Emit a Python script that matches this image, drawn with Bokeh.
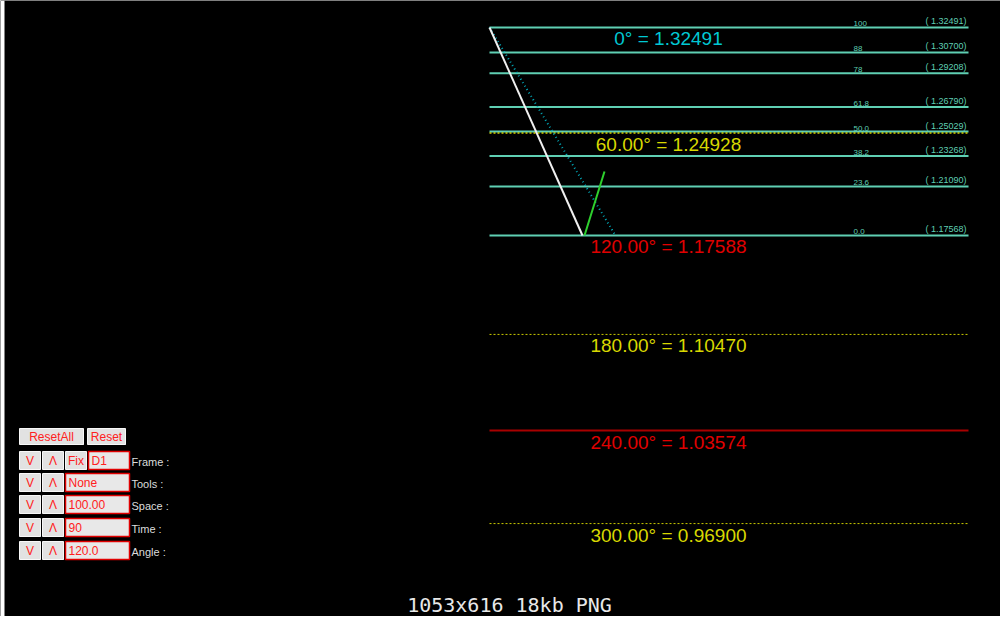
from bokeh.plotting import figure
from bokeh.models import Range1d
from bokeh.core.properties import value
from bokeh.embed import file_html
from bokeh.resources import INLINE

# ---------------- data ----------------
fib_levels = ["100", "88", "78", "61.8", "50.0", "38.2", "23.6", "0.0"]
fib_prices = [1.32491, 1.30700, 1.29208, 1.26790, 1.25029, 1.23268, 1.21090, 1.17568]

angle_labels = ["0° = 1.32491", "60.00° = 1.24928", "120.00° = 1.17588",
                "180.00° = 1.10470", "240.00° = 1.03574", "300.00° = 0.96900"]
angle_prices = [1.32491, 1.24928, 1.17588, 1.10470, 1.03574, 0.96900]
angle_colors = ["#00c8d4", "#d8d800", "#e00000", "#d8d800", "#e00000", "#d8d800"]

# time axis (bar units)
t_start, t_end = 489, 968          # extent of level lines
swing_t = [489, 582]               # high -> low swing
swing_p = [1.32491, 1.17568]
dotted_t = [489, 615]
dotted_p = [1.32491, 1.17568]
green_t = [584, 604]
green_p = [1.17568, 1.2216]
label_t = 668
fib_num_t = 853
fib_price_t = 966

buttons_top = ["ResetAll", "Reset"]
row_labels = ["Frame :", "Tools :", "Space :", "Time :", "Angle :"]
row_values = ["D1", "None", "100.00", "90", "120.0"]
caption = "1053x616 18kb PNG"

W, H = 1000, 616
p = figure(width=W, height=H, output_backend="svg", toolbar_location=None,
           x_range=Range1d(0, W), y_range=Range1d(0.90233, 1.34428),
           x_axis_type=None, y_axis_type=None, min_border=0,
           background_fill_color="black", border_fill_color="black",
           outline_line_color=None)
p.extra_y_ranges = {"px": Range1d(start=H, end=0)}
p.grid.visible = False

FONT = value("Liberation Sans")
AQUA = "#5fcfb3"

# white frame edge on the left
p.quad(left=[0], right=[4], top=[0], bottom=[H], y_range_name="px",
       fill_color="white", line_color=None)

# fib levels
p.segment(x0=[t_start] * len(fib_prices), x1=[t_end] * len(fib_prices),
          y0=fib_prices, y1=fib_prices, line_color=AQUA, line_width=2)
p.text(x=[fib_num_t] * len(fib_levels), y=fib_prices, text=fib_levels,
       text_color=AQUA, text_font=FONT, text_font_size="8px",
       text_baseline="bottom", y_offset=-1)
p.text(x=[fib_price_t] * len(fib_prices), y=fib_prices,
       text=["( %.5f)" % v for v in fib_prices],
       text_color=AQUA, text_font=FONT, text_font_size="9px",
       text_baseline="bottom", text_align="right", y_offset=-1)

# angle level lines
p.segment(x0=[t_start], x1=[t_end], y0=[angle_prices[1]], y1=[angle_prices[1]],
          line_color="#d8d800", line_width=1.5, line_dash="2 2")
for i in (3, 5):
    p.segment(x0=[t_start], x1=[t_end], y0=[angle_prices[i]], y1=[angle_prices[i]],
              line_color="#c8c800", line_width=1, line_dash="2 2")
p.segment(x0=[t_start], x1=[t_end], y0=[angle_prices[4]], y1=[angle_prices[4]],
          line_color="#a80000", line_width=2)

# angle labels
p.text(x=[label_t] * len(angle_labels), y=angle_prices, text=angle_labels,
       text_color=angle_colors, text_font=FONT, text_font_size="19px",
       text_align="center", text_baseline="top", y_offset=1)

# swing lines
p.line(dotted_t, dotted_p, line_color="#00a8b8", line_width=2, line_dash="1 3")
p.line(swing_t, swing_p, line_color="#f0f0f0", line_width=2)
p.line(green_t, green_p, line_color="#2ed02e", line_width=2)

# ---------------- control panel ----------------
def button(xc, yc, w, h, label):
    p.rect(x=[xc + 0.5], y=[yc + 0.5], width=[w], height=[h], y_range_name="px",
           fill_color="#707070", line_color=None)
    p.rect(x=[xc], y=[yc], width=[w], height=[h], y_range_name="px",
           fill_color="#e2e2e2", line_color="#f8f8f8", line_width=1)
    p.text(x=[xc], y=[yc], text=[label], y_range_name="px", text_color="#ff2020",
           text_font=FONT, text_font_size="12px", text_align="center",
           text_baseline="middle")

def entry(x0, yc, w, h, label):
    p.rect(x=[x0 + w / 2], y=[yc], width=[w], height=[h], y_range_name="px",
           fill_color="#e8e8e8", line_color="#e00000", line_width=1.5)
    p.text(x=[x0 + 3], y=[yc], text=[label], y_range_name="px", text_color="#ff2020",
           text_font=FONT, text_font_size="12px", text_align="left",
           text_baseline="middle")

button(51, 436, 64, 16, buttons_top[0])
button(106, 436, 38, 16, buttons_top[1])

row_y = [460, 482, 504, 527, 550]
for i, (yc, lab, val) in enumerate(zip(row_y, row_labels, row_values)):
    button(29.5, yc, 21, 18, "V")
    button(52.5, yc, 21, 18, "Λ")
    if i == 0:
        button(75.5, yc, 21, 18, "Fix")
        entry(88, yc, 41, 18, val)
    else:
        entry(65, yc, 64, 18, val)
    p.text(x=[131], y=[yc + 1], text=[lab], y_range_name="px", text_color="#dcdcdc",
           text_font=FONT, text_font_size="11px", text_align="left",
           text_baseline="middle")

# caption
p.text(x=[509], y=[604], text=[caption], y_range_name="px", text_color="#e8e8e8",
       text_font=value("DejaVu Sans Mono"), text_font_size="20px",
       text_align="center", text_baseline="middle")

open("out.html", "w").write(file_html(p, INLINE))
